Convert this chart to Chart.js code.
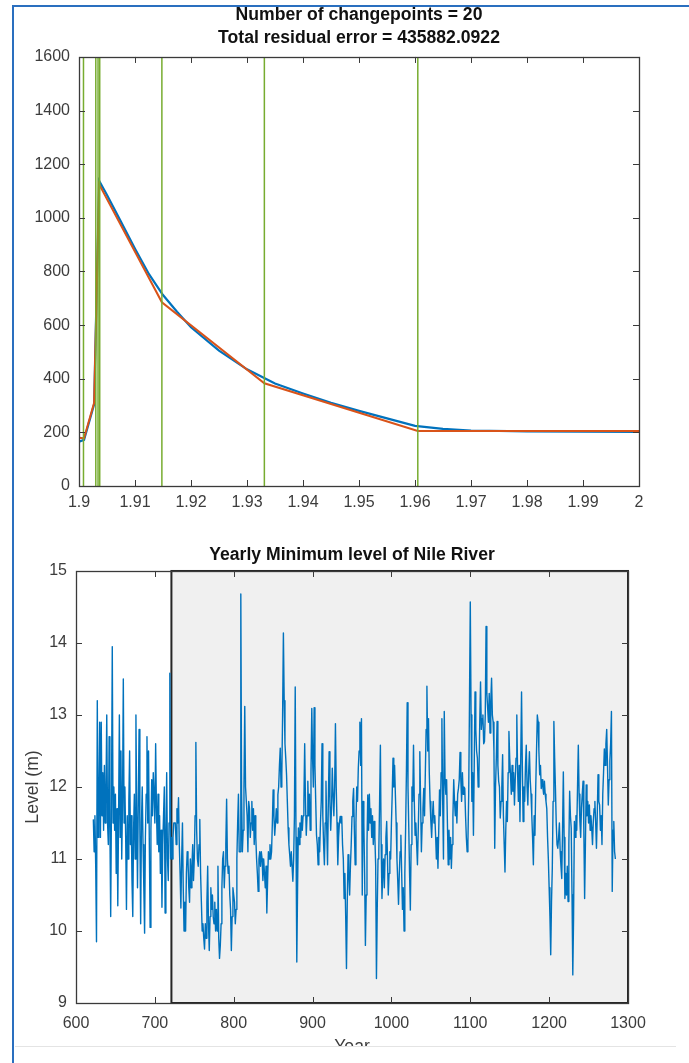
<!DOCTYPE html>
<html>
<head>
<meta charset="utf-8">
<script src="https://cdn.jsdelivr.net/npm/chart.js@4/dist/chart.umd.min.js"></script>
<style>
  html, body { margin: 0; padding: 0; background: #fff; }
  body { width: 689px; height: 1063px; position: relative; overflow: hidden; }
  canvas { position: absolute; left: 0; }
  #top_chart { top: 0; }
  #nile_chart { top: 530px; }
  .frame { position: absolute; background: #2a6fbf; z-index: 5; }
  #cover { position: absolute; left: 15px; top: 1046px; width: 661px; height: 17px;
           background: #fff; border-top: 1px solid #e4e4e4; z-index: 4; }
</style>
</head>
<body>
<canvas id="top_chart" width="689" height="530"></canvas>
<canvas id="nile_chart" width="689" height="533"></canvas>
<div class="frame" style="left:12px;top:5px;width:2px;height:1058px"></div>
<div class="frame" style="left:12px;top:5px;width:677px;height:2px"></div>
<div id="cover"></div>
<script>
// ---- top panel: changepoint fit ----
const topTitle = ['Number of changepoints = 20', 'Total residual error = 435882.0922'];
const topXTicks = [1.9, 1.91, 1.92, 1.93, 1.94, 1.95, 1.96, 1.97, 1.98, 1.99, 2];
const topXLabels = ['1.9', '1.91', '1.92', '1.93', '1.94', '1.95', '1.96', '1.97', '1.98', '1.99', '2'];
const topYTicks = [0, 200, 400, 600, 800, 1000, 1200, 1400, 1600];

const signalX = [1.9, 1.9009, 1.9027, 1.9036, 1.905, 1.9075, 1.91, 1.9125, 1.915, 1.9175, 1.92, 1.925,
                 1.93, 1.935, 1.94, 1.945, 1.95, 1.955, 1.96, 1.965, 1.97, 1.98, 1.99, 2.0];
const signalY = [165, 172, 305, 1138, 1085, 985, 885, 790, 712, 650, 592, 505,
                 435, 382, 345, 310, 280, 252, 224, 213, 207, 204, 203, 202];

const fitX = [1.9, 1.9009, 1.9027, 1.9036, 1.9148, 1.9331, 1.9605, 2.0];
const fitY = [180, 178, 310, 1125, 685, 383, 205, 205];

const changepoints = [1.9008, 1.903, 1.9034, 1.9037, 1.9148, 1.9331, 1.9605];

// ---- bottom panel: Nile minimum level ----
const nileTitle = 'Yearly Minimum level of Nile River';
const nileFirstYear = 622;
const nileLevels = [
  11.55, 11.1, 11.6, 10.9, 9.85, 13.2, 11.3, 11.7, 12.9, 11.3,      // 622
  12.9, 11.6, 12.2, 11.4, 12.3, 11.5, 11.9, 13.0, 11.5, 11.2,       // 632
  12.7, 11.4, 10.2, 11.8, 13.95, 11.5, 12.0, 11.4, 11.9, 10.8,      // 642
  11.7, 10.35, 11.6, 13.0, 11.3, 12.5, 11.0, 11.8, 13.5, 11.5,      // 652
  12.0, 11.3, 10.3, 11.6, 11.0, 11.8, 12.5, 11.2, 11.6, 10.7,       // 662
  10.2, 11.4, 11.9, 11.0, 13.0, 11.6, 10.6, 11.8, 12.8, 11.4,       // 672
  10.1, 11.5, 12.0, 11.2, 10.6, 9.97, 11.3, 11.9, 12.7, 11.5,       // 682
  12.5, 11.2, 10.05, 11.4, 12.1, 11.6, 12.2, 11.9, 11.5, 12.6,      // 692
  11.7, 11.2, 11.9, 11.1, 11.6, 10.8, 11.4, 10.33, 11.2, 11.6,      // 702
  12.0, 10.25, 11.3, 12.2, 11.0, 10.7, 11.5, 13.58, 11.0, 11.3,     // 712
  11.0, 11.3, 11.5, 11.5, 11.5, 11.2, 11.7, 11.5, 11.85, 11.2,      // 722
  10.8, 10.32, 11.0, 11.5, 10.6, 10.0, 10.4, 10.0, 10.8, 11.1,      // 732
  11.0, 10.6, 10.4, 11.0, 10.6, 10.9, 11.2, 10.7, 11.0, 11.6,       // 742
  12.62, 11.4, 11.0, 10.9, 11.2, 11.55, 10.8, 10.4, 10.0, 10.1,     // 752
  9.9, 9.75, 10.1, 9.9, 10.4, 10.9, 10.1, 9.73, 10.2, 10.6,         // 762
  10.3, 10.5, 10.2, 10.1, 10.4, 10.0, 10.3, 10.0, 10.9, 9.9,        // 772
  9.62, 9.8, 10.1, 10.6, 11.0, 11.1, 10.6, 10.9, 11.2, 11.83,       // 782
  11.0, 10.8, 10.9, 10.5, 10.3, 9.73, 10.2, 10.6, 10.5, 10.4,       // 792
  10.1, 10.3, 11.0, 11.5, 11.9, 11.1, 11.1, 14.68, 11.9, 11.1,      // 802
  11.4, 12.0, 13.12, 12.0, 11.8, 11.6, 11.1, 11.8, 11.7, 11.3,      // 812
  11.5, 11.8, 11.4, 11.7, 11.2, 11.6, 11.3, 11.0, 10.8, 10.55,      // 822
  11.0, 11.1, 10.9, 11.1, 11.0, 10.7, 11.0, 10.8, 10.6, 10.9,       // 832
  10.25, 10.7, 11.1, 11.0, 11.2, 11.0, 11.1, 11.5, 11.96, 11.6,     // 842
  11.33, 11.5, 11.7, 11.5, 11.89, 12.0, 12.3, 12.54, 12.0, 12.17,   // 852
  13.0, 14.14, 13.2, 12.6, 12.4, 12.17, 11.8, 11.43, 11.2, 11.06,   // 862
  10.9, 11.1, 10.9, 10.69, 11.0, 11.6, 13.39, 11.3, 9.57, 10.6,     // 872
  11.43, 11.2, 11.5, 11.3, 11.6, 11.4, 11.6, 11.8, 12.6, 11.8,      // 882
  11.33, 11.6, 12.08, 11.6, 11.9, 11.4, 12.2, 13.09, 12.4, 12.0,    // 892
  13.1, 12.3, 11.8, 11.33, 11.2, 10.92, 11.3, 11.1, 11.5, 11.8,     // 902
  12.6, 11.6, 11.2, 10.92, 11.5, 12.08, 11.4, 10.92, 11.8, 12.49,   // 912
  11.8, 11.4, 11.7, 12.26, 11.9, 11.6, 12.0, 12.88, 12.0, 11.5,     // 922
  10.92, 11.3, 11.5, 11.59, 11.5, 11.59, 11.2, 11.0, 10.45, 10.8,   // 932
  10.2, 9.48, 10.4, 11.06, 10.8, 10.5, 10.9, 11.2, 11.59, 11.8,     // 942
  11.98, 11.4, 10.92, 11.5, 12.0, 11.8, 12.26, 12.5, 12.9, 12.3,    // 952
  12.95, 10.5, 11.8, 11.5, 10.8, 9.8, 10.5, 11.2, 11.89, 11.4,      // 962
  11.9, 11.5, 11.7, 11.3, 11.6, 11.2, 11.52, 11.3, 10.92, 9.34,     // 972
  10.3, 11.0, 11.1, 11.8, 12.58, 11.2, 10.45, 10.8, 11.0, 10.6,     // 982
  11.06, 11.3, 11.52, 11.0, 10.5, 10.8, 11.1, 11.0, 11.5, 11.9,     // 992
  12.4, 12.0, 12.3, 11.9, 11.5, 11.0, 10.7, 10.37, 10.8, 11.1,      // 1002
  11.33, 10.8, 10.3, 10.6, 10.0, 10.8, 11.43, 12.2, 13.17, 12.0,    // 1012
  11.43, 10.8, 10.29, 11.2, 12.0, 11.8, 12.58, 11.8, 11.33, 11.5,   // 1022
  11.2, 10.92, 11.4, 11.9, 12.49, 11.8, 11.1, 11.5, 11.7, 11.98,    // 1032
  11.6, 12.2, 12.8, 13.4, 12.5, 12.95, 12.2, 11.8, 11.52, 11.3,     // 1042
  11.6, 11.8, 11.5, 11.6, 11.33, 11.0, 11.3, 10.87, 11.4, 11.96,    // 1052
  11.6, 12.2, 12.95, 11.8, 11.0, 13.05, 12.1, 11.9, 12.1, 11.5,     // 1062
  10.92, 11.4, 11.0, 11.3, 10.87, 11.2, 11.6, 12.1, 11.8, 11.6,     // 1072
  11.8, 11.5, 11.9, 11.98, 12.1, 12.48, 12.1, 11.8, 12.2, 11.9,     // 1082
  12.0, 11.98, 11.6, 11.3, 11.1, 11.24, 11.9, 13.2, 14.57, 13.0,    // 1092
  11.8, 12.2, 11.33, 12.3, 13.32, 12.8, 12.5, 12.4, 12.0, 12.17,    // 1102
  12.9, 13.46, 12.8, 12.95, 13.0, 12.6, 12.63, 13.0, 14.23, 13.3,   // 1112
  13.1, 12.9, 13.3, 12.75, 13.2, 13.51, 13.0, 12.9, 12.5, 11.15,    // 1122
  12.0, 12.4, 12.91, 12.3, 12.08, 12.0, 11.57, 11.8, 12.0, 12.45,   // 1132
  11.6, 11.2, 10.82, 11.4, 11.8, 11.52, 12.2, 12.77, 12.4, 12.17,   // 1142
  11.9, 12.3, 11.94, 12.2, 11.75, 12.1, 12.4, 13.0, 12.2, 11.8,     // 1152
  12.3, 11.52, 12.4, 13.32, 12.3, 11.52, 12.0, 11.8, 12.3, 12.58,   // 1162
  12.0, 11.75, 12.2, 12.49, 12.1, 11.9, 11.6, 11.3, 10.92, 11.6,    // 1172
  11.33, 12.0, 12.5, 13.0, 12.9, 12.5, 12.17, 12.3, 11.98, 12.1,    // 1182
  12.0, 11.9, 12.08, 11.9, 11.8, 11.7, 11.3, 11.0, 10.6, 10.2,      // 1192
  9.67, 10.4, 10.87, 11.8, 12.91, 12.4, 11.98, 11.5, 11.2, 11.15,   // 1202
  11.3, 11.5, 11.1, 10.9, 10.73, 11.4, 12.21, 11.3, 10.45, 10.8,    // 1212
  10.5, 10.9, 10.41, 11.2, 11.94, 11.6, 11.43, 10.5, 9.39, 10.2,    // 1222
  11.52, 11.3, 11.6, 11.4, 12.0, 12.58, 11.9, 11.52, 11.3, 11.71,   // 1232
  11.9, 12.08, 11.4, 10.45, 11.2, 12.03, 11.6, 11.8, 11.5, 11.75,   // 1242
  11.4, 11.6, 11.43, 11.2, 11.52, 11.7, 11.8, 11.5, 11.15, 11.6,    // 1252
  12.17, 11.8, 11.75, 11.4, 11.6, 11.2, 11.9, 12.2, 12.53, 12.3,    // 1262
  12.6, 12.8, 12.3, 11.75, 12.1, 12.36, 12.6, 13.05, 10.55, 11.4,   // 1272
  11.52, 11.1, 11.0                                                 // 1282
];
const nileXTicks = [600, 700, 800, 900, 1000, 1100, 1200, 1300];
const nileYTicks = [9, 10, 11, 12, 13, 14, 15];
const shadeSpan = [721, 1300];

const AXIS_COLOR = '#3a3a3a';
const LABEL_COLOR = '#3c3c3c';
Chart.defaults.font.family = '"Liberation Sans", Arial, sans-serif';
Chart.defaults.color = LABEL_COLOR;

// matlab style: box round the axes, ticks pointing inward on all four sides
const matlab_box = {
    id: 'matlab_box',
    afterDatasetsDraw(chart) {
        const {ctx, chartArea: a, scales} = chart;
        ctx.save();
        ctx.strokeStyle = AXIS_COLOR;
        ctx.lineWidth = 1;
        ctx.beginPath();
        scales.x.ticks.forEach(t => {
            const px = Math.round(scales.x.getPixelForValue(t.value)) + 0.5;
            ctx.moveTo(px, a.bottom); ctx.lineTo(px, a.bottom - 6);
            ctx.moveTo(px, a.top); ctx.lineTo(px, a.top + 6);
        });
        scales.y.ticks.forEach(t => {
            const py = Math.round(scales.y.getPixelForValue(t.value)) + 0.5;
            ctx.moveTo(a.left, py); ctx.lineTo(a.left + 6, py);
            ctx.moveTo(a.right, py); ctx.lineTo(a.right - 6, py);
        });
        ctx.stroke();
        ctx.lineWidth = 1.3;
        ctx.strokeRect(Math.round(a.left) + 0.5, Math.round(a.top) + 0.5,
                       Math.round(a.right - a.left), Math.round(a.bottom - a.top));
        ctx.restore();
    }
};

const shade_box = {
    id: 'shade_box',
    beforeDatasetsDraw(chart) {
        const {ctx, scales} = chart;
        const x0 = scales.x.getPixelForValue(shadeSpan[0]);
        const x1 = scales.x.getPixelForValue(shadeSpan[1]);
        const y0 = scales.y.getPixelForValue(scales.y.max);
        const y1 = scales.y.getPixelForValue(scales.y.min);
        ctx.save();
        ctx.fillStyle = '#f0f0f0';
        ctx.fillRect(x0, y0, x1 - x0, y1 - y0);
        ctx.strokeStyle = '#262626';
        ctx.lineWidth = 2;
        ctx.strokeRect(x0, y0, x1 - x0, y1 - y0);
        ctx.restore();
    }
};

function fixed_ticks(values) {
    return scale => { scale.ticks = values.map(v => ({value: v})); };
}

function axis(min, max, ticks, labels, pad, size, extra) {
    return Object.assign({
        type: 'linear', min: min, max: max,
        afterBuildTicks: fixed_ticks(ticks),
        afterFit: scale => {
            if (scale.isHorizontal()) scale.height = size; else scale.width = size;
        },
        grid: {display: false, drawTicks: false},
        border: {display: false},
        ticks: {
            autoSkip: false, maxRotation: 0, padding: pad,
            font: {size: 16}, color: LABEL_COLOR,
            callback: (v, i) => labels[i]
        }
    }, extra || {});
}

function xy(xs, ys) {
    return xs.map((x, i) => ({x: x, y: ys[i]}));
}

// top chart
const top_sets = changepoints.map(c => ({
    data: [{x: c, y: 0}, {x: c, y: 1600}],
    borderColor: '#77AC30', borderWidth: 1.5, order: 0
}));
top_sets.push({data: xy(fitX, fitY), borderColor: '#D95319', borderWidth: 2, order: 1});
top_sets.push({data: xy(signalX, signalY), borderColor: '#0072BD', borderWidth: 2.2, order: 2});

new Chart(document.getElementById('top_chart'), {
    type: 'line',
    data: {datasets: top_sets},
    options: {
        responsive: false, animation: false, devicePixelRatio: 1,
        elements: {point: {radius: 0}, line: {tension: 0, fill: false}},
        layout: {padding: {left: 0, right: 50, top: 0, bottom: 0}},
        plugins: {
            legend: {display: false}, tooltip: {enabled: false},
            title: {
                display: true, text: topTitle, color: '#111', fullSize: false,
                font: {size: 17.6, weight: 'bold', lineHeight: 1.3},
                padding: {top: 4, bottom: 7.2}
            }
        },
        scales: {
            x: axis(1.9, 2, topXTicks, topXLabels, 7, 44),
            y: axis(0, 1600, topYTicks, topYTicks.map(String), 9, 79)
        }
    },
    plugins: [matlab_box]
});

// bottom chart
const nileYears = nileLevels.map((_, i) => nileFirstYear + i);

new Chart(document.getElementById('nile_chart'), {
    type: 'line',
    data: {
        datasets: [{
            data: xy(nileYears, nileLevels),
            borderColor: '#0072BD', borderWidth: 1.4, borderJoinStyle: 'round'
        }]
    },
    options: {
        responsive: false, animation: false, devicePixelRatio: 1,
        elements: {point: {radius: 0}, line: {tension: 0, fill: false}},
        layout: {padding: {left: 0, right: 61, top: 0, bottom: 0}},
        plugins: {
            legend: {display: false}, tooltip: {enabled: false},
            title: {
                display: true, text: nileTitle, color: '#111', fullSize: false,
                font: {size: 17.6, weight: 'bold', lineHeight: 1.3},
                padding: {top: 13.6, bottom: 4.5}
            }
        },
        scales: {
            x: axis(600, 1300, nileXTicks, nileXTicks.map(String), 11, 60, {
                title: {display: true, text: 'Year', font: {size: 17.6}, color: LABEL_COLOR,
                        padding: {top: 0, bottom: 5.4}}
            }),
            y: axis(9, 15, nileYTicks, nileYTicks.map(String), 9, 76, {
                title: {display: true, text: 'Level (m)', font: {size: 17.6}, color: LABEL_COLOR,
                        padding: {top: 22.4, bottom: 0}}
            })
        }
    },
    plugins: [shade_box, matlab_box]
});
</script>
</body>
</html>
